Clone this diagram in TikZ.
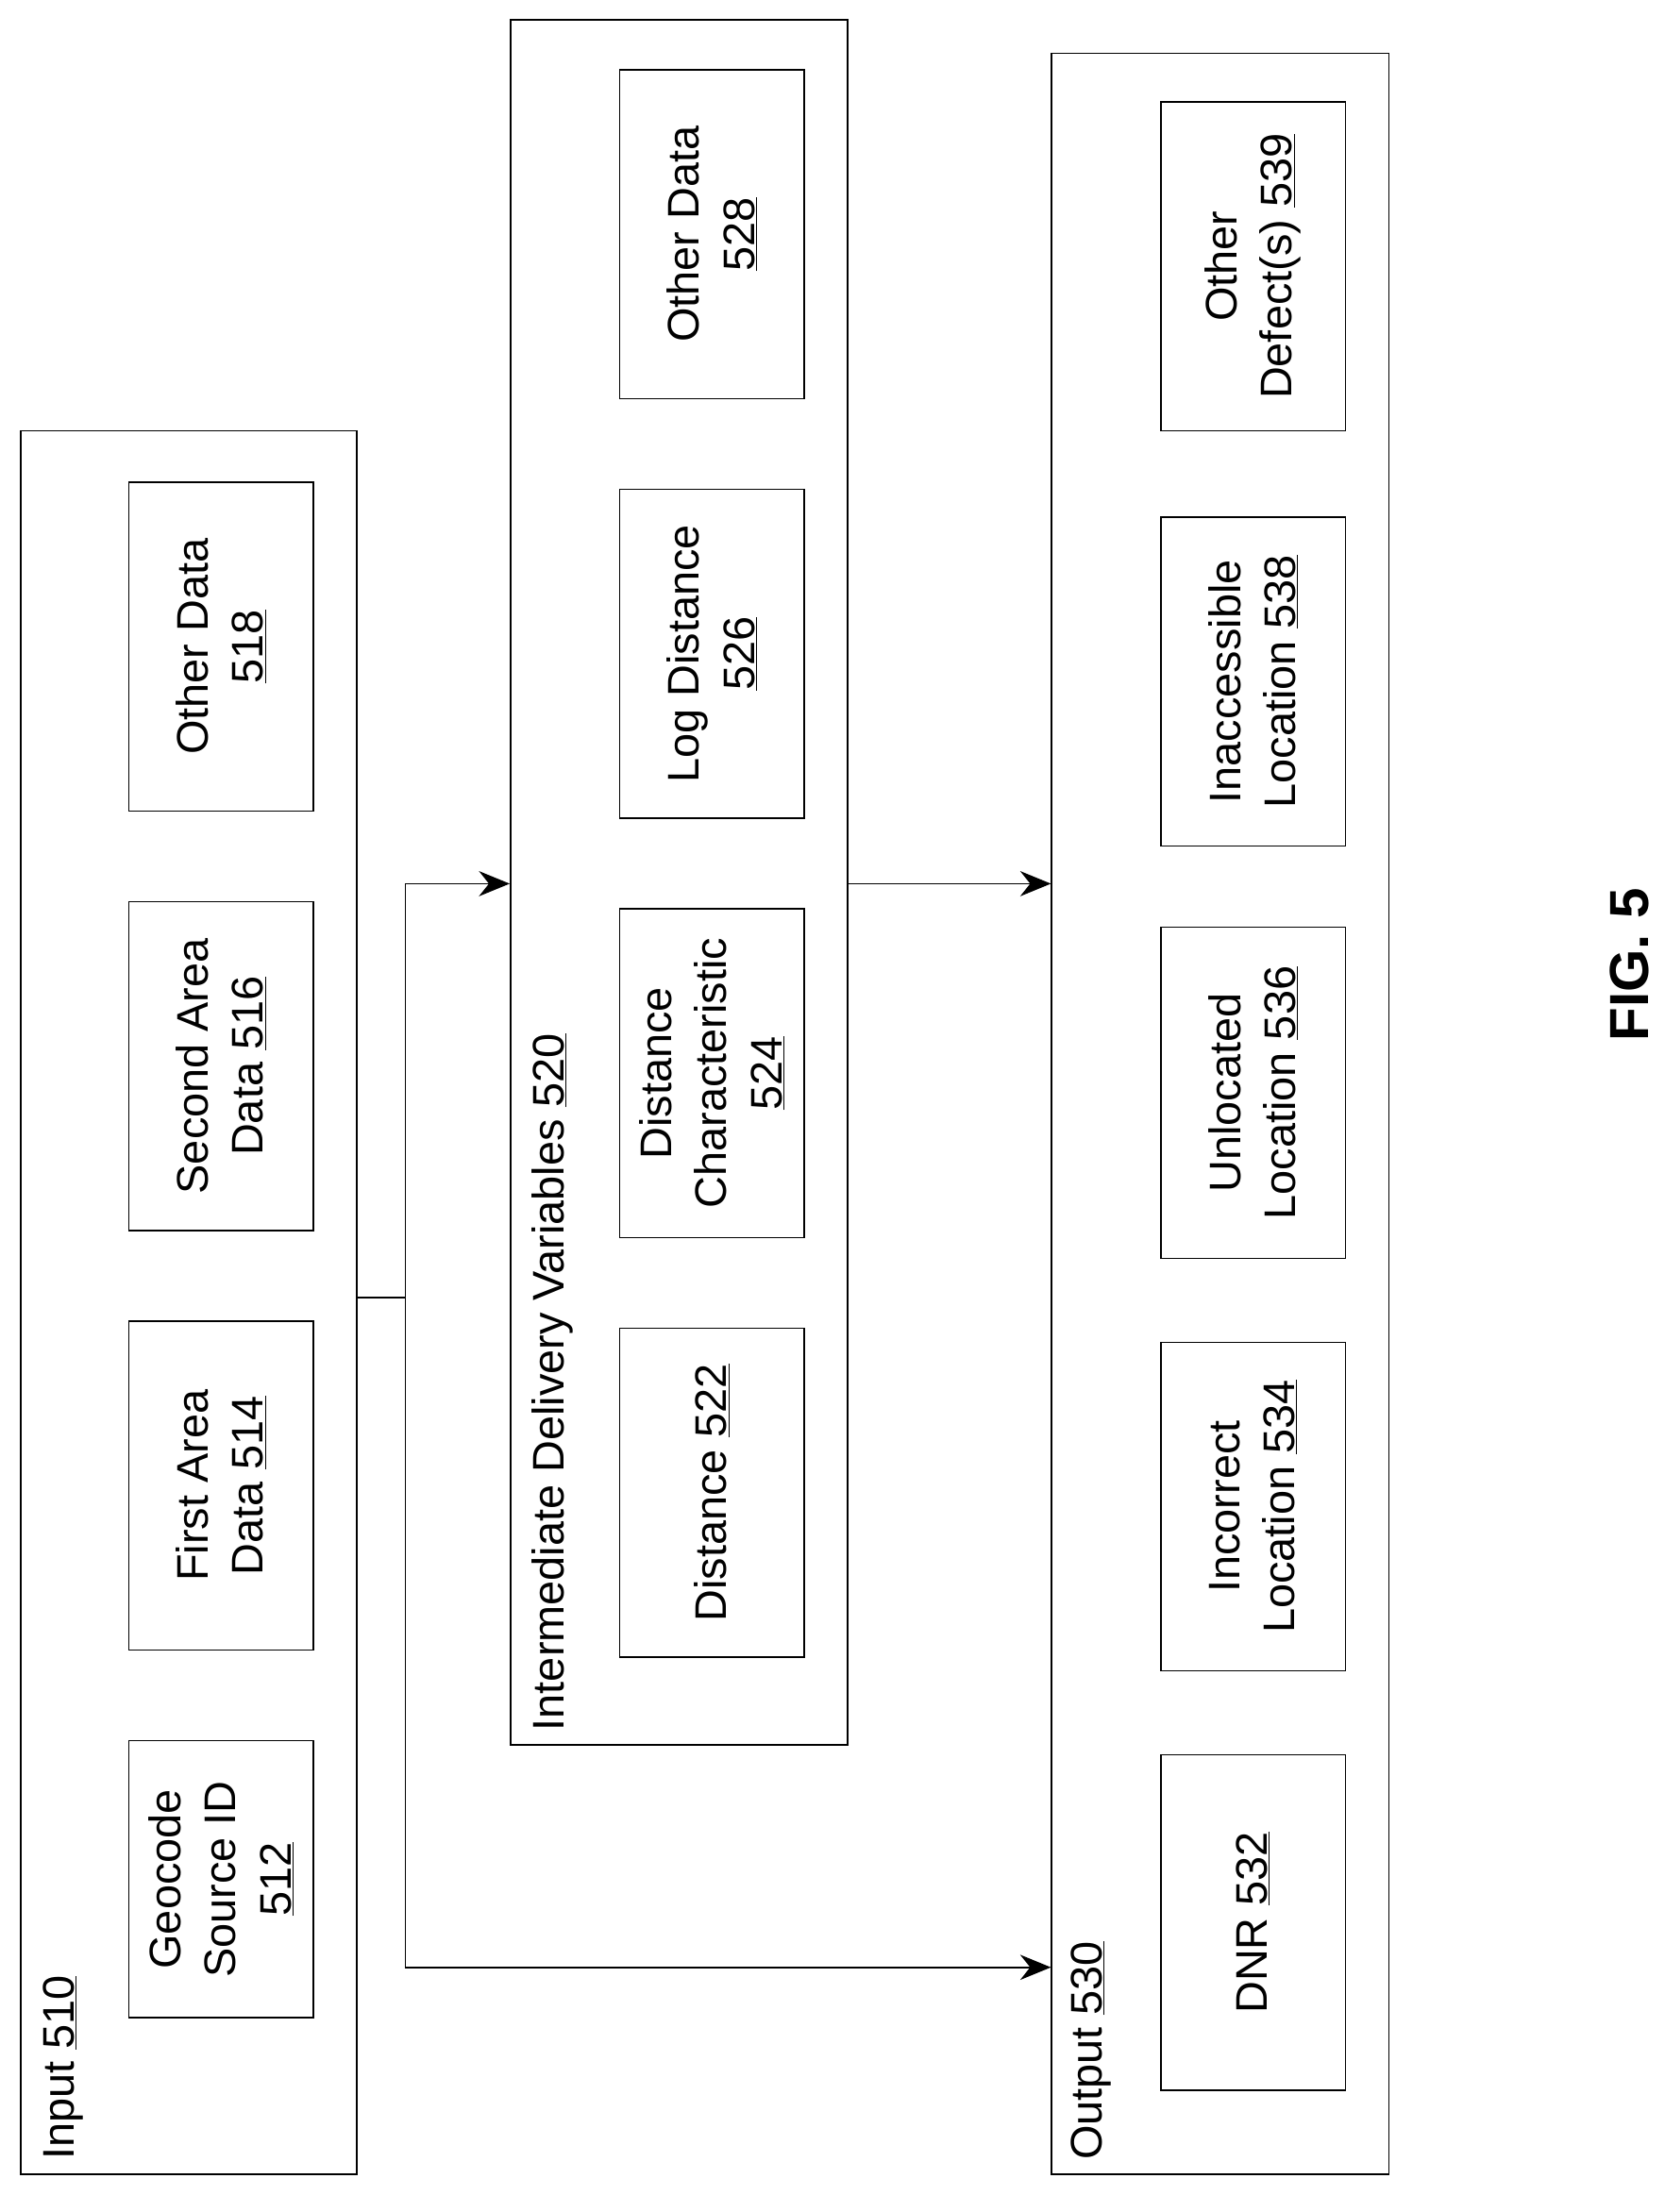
\documentclass[tikz,border=0pt]{standalone}
\usepackage{fontspec}
\setmainfont{Liberation Sans}
\usetikzlibrary{arrows.meta}
\begin{document}
\begin{tikzpicture}[x=0.5mm,y=-0.5mm,
 cont/.style={draw,line width=1.5pt,inner sep=0},
 box/.style={draw,line width=1.5pt,rotate=90,align=center,inner sep=0,minimum height=66mm,font=\fontsize{45}{56}\selectfont},
 lab/.style={rotate=90,anchor=west,font=\fontsize{45}{56}\selectfont,inner sep=0},
 arr/.style={line width=1.5pt,-{Stealth[length=11mm,width=9mm]}}]
\useasboundingbox (0,0) rectangle (1190,1582);
% containers
\node[cont,minimum width=120mm,minimum height=623.5mm] (in) at (135,931.5) {};
\node[cont,minimum width=120.5mm,minimum height=617mm] (inter) at (485.5,631) {};
\node[cont,minimum width=120.5mm,minimum height=758.5mm] (out) at (872.5,796.5) {};
\node[lab] (lin) at (45,1545) {Input \underline{510}};
\node[lab] (linter) at (395,1238) {Intermediate Delivery Variables \underline{520}};
\node[lab] (lout) at (780,1545) {Output \underline{530}};
% input
\node[box,minimum width=99mm] (b512) at (158,1344) {Geocode\\Source ID\\\underline{512}};
\node[box,minimum width=117.5mm] (b514) at (158,1062.5) {First Area\\Data \underline{514}};
\node[box,minimum width=117.5mm] (b516) at (158,762.5) {Second Area\\Data \underline{516}};
\node[box,minimum width=117.5mm] (b518) at (158,462.5) {Other Data\\\underline{518}};
% intermediate
\node[box,minimum width=117.5mm] (b522) at (509,1067.5) {Distance \underline{522}};
\node[box,minimum width=117.5mm] (b524) at (509,767.5) {Distance\\Characteristic\\\underline{524}};
\node[box,minimum width=117.5mm] (b526) at (509,467.5) {Log Distance\\\underline{526}};
\node[box,minimum width=117.5mm] (b528) at (509,167.5) {Other Data\\\underline{528}};
% output
\node[box,minimum width=120mm] (b532) at (896,1375) {DNR \underline{532}};
\node[box,minimum width=117.5mm] (b534) at (896,1077.5) {Incorrect\\Location \underline{534}};
\node[box,minimum width=118.5mm] (b536) at (896,781.5) {Unlocated\\Location \underline{536}};
\node[box,minimum width=117.5mm] (b538) at (896,487.5) {Inaccessible\\Location \underline{538}};
\node[box,minimum width=117.5mm] (b539) at (896,190.5) {Other\\Defect(s) \underline{539}};
% connectors
\coordinate (j) at (290,928);
\coordinate (ya) at (0,632);
\coordinate (yb) at (0,1407);
\draw[line width=1.5pt] (in.east|-j) -- (j);
\draw[arr] (j) |- (inter.west|-ya);
\draw[arr] (j) |- (out.west|-yb);
\draw[arr] (inter.east|-ya) -- (out.west|-ya);
\node[rotate=90,font=\bfseries\fontsize{56}{60}\selectfont] (fig) at (1165,690) {FIG. 5};
\end{tikzpicture}
\end{document}
